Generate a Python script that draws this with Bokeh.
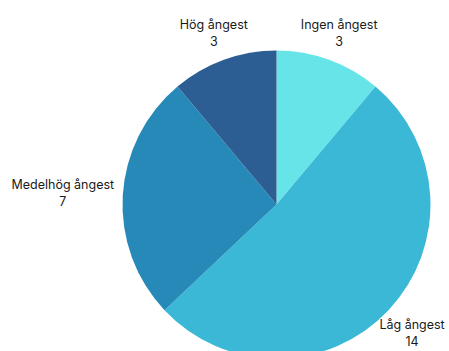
import math
from bokeh.plotting import figure
from bokeh.models import Range1d, ColumnDataSource
from bokeh.embed import file_html
from bokeh.resources import INLINE
from bokeh.core.properties import value

categories = ["Ingen ångest", "Låg ångest", "Medelhög ångest", "Hög ångest"]
counts = [3, 14, 7, 3]
colors = ["#66E4E8", "#3AB8D6", "#2689B8", "#2C5E93"]
label_dist = [1.19, 1.21, 1.39, 1.19]

W, H = 449, 351
cx, cy, r = 276, 351 - 204, 154

total = sum(counts)
starts, ends, mids = [], [], []
a = math.pi / 2
for c in counts:
    span = 2 * math.pi * c / total
    starts.append(a)
    ends.append(a - span)
    mids.append(a - span / 2)
    a -= span

src = ColumnDataSource(dict(x=[cx] * 4, y=[cy] * 4, start=starts, end=ends, color=colors))

p = figure(width=W, height=H, x_range=Range1d(0, W), y_range=Range1d(0, H),
           output_backend="svg", toolbar_location=None, min_border=0)
p.axis.visible = False
p.grid.visible = False
p.outline_line_color = None
p.background_fill_color = "white"

p.wedge(x="x", y="y", radius=r, start_angle="start", end_angle="end",
        direction="clock", fill_color="color", line_color=None, source=src)

lx, ly1, ly2, names, vals = [], [], [], [], []
for name, c, m, d in zip(categories, counts, mids, label_dist):
    x = cx + r * d * math.cos(m)
    y = cy + r * d * math.sin(m)
    lx.append(x)
    ly1.append(y + 8)
    ly2.append(y - 9)
    names.append(name)
    vals.append(str(c))

p.text(x=lx, y=ly1, text=names, text_align="center", text_baseline="middle",
       text_font=value("Inter"), text_font_size="12.5px", text_color="#1a1a1a")
p.text(x=lx, y=ly2, text=vals, text_align="center", text_baseline="middle",
       text_font=value("Inter"), text_font_size="12.5px", text_color="#1a1a1a")

open("out.html", "w").write(file_html(p, INLINE))
